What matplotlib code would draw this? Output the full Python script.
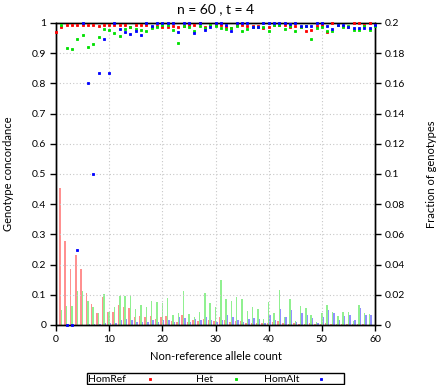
import numpy as np
import matplotlib
matplotlib.use("Agg")
import matplotlib.pyplot as plt
from matplotlib.lines import Line2D
from matplotlib.patches import Rectangle

plt.rcParams['font.family'] = ['Lato', 'DejaVu Sans']

nan = np.nan
allele_count = list(range(61))

conc_homref = [0.970, 0.988, 0.993, 0.993, 0.993, 0.993, 0.993, 0.993, 0.991, 0.994,
               0.995, 0.993, 0.995, 0.995, 0.988, 0.992, 0.993, 0.994, 0.986, 0.990,
               0.988, 0.988, 0.990, 0.986, 0.990, 0.993, 0.993, 1.000, 0.988, 0.994,
               0.995, 0.995, 0.988, 0.984, 0.995, 0.993, 0.990, 0.990, 0.990, 0.985,
               0.988, 0.995, 0.995, 0.993, 0.988, 0.990, 0.988, 0.972, 0.978, 0.990,
               0.993, 0.969, 1.000, 0.995, 0.990, 0.988, 1.000, 1.000, 0.995, 1.000,
               0.995]
conc_het = [nan, 0.995, 0.918, 0.913, 0.947, 0.959, 0.920, 0.930, 0.953, 0.979,
            0.976, 0.968, 0.957, 0.979, 0.986, 0.979, 0.978, 0.973, 0.984, 0.987,
            0.993, 0.993, 0.976, 0.934, 0.990, 0.988, 0.973, 0.990, 0.985, 0.995,
            0.990, 0.985, 0.981, 0.982, 0.990, 0.974, 0.981, 0.988, 0.988, 0.987,
            0.972, 0.995, 0.994, 0.981, 0.990, 0.972, 0.988, 0.990, 0.946, 0.983,
            0.987, 0.974, 0.972, 0.995, 0.988, 0.990, 0.978, 0.978, 0.990, 0.978,
            0.990]
conc_homalt = [nan, nan, 0.0, 0.0, 0.25, 1.0, 0.8, 0.5, 0.833, 0.946,
               0.833, 1.0, 0.981, 0.970, 0.962, 0.972, 0.960, 1.0, 0.990, 1.0,
               1.0, 1.0, 1.0, 0.970, 1.0, 1.0, 0.967, 1.0, 0.978, 0.988,
               1.0, 1.0, 0.994, 0.974, 1.0, 1.0, 1.0, 0.988, 0.988, 1.0,
               1.0, 1.0, 1.0, 1.0, 0.996, 1.0, 0.990, 0.991, 0.990, 1.0,
               1.0, 0.990, 0.981, 0.995, 0.994, 0.988, 0.985, 0.985, 0.985, 0.985,
               0.995]

frac_homref = [0.0, 0.091, 0.0555, 0.037, 0.0464, 0.037, 0.0214, 0.0139, 0.0081, 0.0183,
               0.0083, 0.0083, 0.0132, 0.012, 0.011, 0.005, 0.006, 0.005, 0.006, 0.004,
               0.005, 0.006, 0.0026, 0.002, 0.0066, 0.002, 0.003, 0.0025, 0.0042, 0.003,
               0.0025, 0.005, 0.003, 0.002, 0.0025, 0.0025, 0.0015, 0.0015, 0.001, 0.001,
               0.001, 0.002, 0.0025, 0.001, 0.0008, 0.001, 0.0008, 0.0008, 0.001, 0.0008,
               0.0008, 0.001, 0.0008, 0.0005, 0.0005, 0.0005, 0.0005, 0.0008, 0.0005, 0.0003,
               0.0003]
frac_het = [0.0, 0.0099, 0.0126, 0.0126, 0.0225, 0.0225, 0.0159, 0.0117, 0.0082, 0.0203,
            0.0083, 0.0117, 0.0194, 0.0192, 0.0192, 0.0104, 0.013, 0.0117, 0.0161, 0.015,
            0.0146, 0.0177, 0.0066, 0.0077, 0.0225, 0.007, 0.005, 0.0084, 0.0214, 0.0148,
            0.0121, 0.0298, 0.017, 0.0161, 0.0183, 0.0172, 0.0093, 0.0117, 0.0104, 0.0038,
            0.0152, 0.008, 0.0232, 0.0055, 0.0172, 0.0026, 0.0126, 0.0115, 0.0066, 0.0021,
            0.0077, 0.0132, 0.0088, 0.0059, 0.0088, 0.0084, 0.0028, 0.013, 0.0077, 0.0073,
            0.0]
frac_homalt = [0.0, 0.0, 0.0002, 0.0002, 0.0003, 0.0003, 0.0004, 0.0004, 0.0005, 0.001,
               0.001, 0.0015, 0.003, 0.004, 0.003, 0.002, 0.002, 0.002, 0.003, 0.002,
               0.003, 0.003, 0.002, 0.005, 0.0045, 0.002, 0.004, 0.0035, 0.0055, 0.003,
               0.002, 0.003, 0.0066, 0.005, 0.0035, 0.002, 0.004, 0.0045, 0.004, 0.001,
               0.0066, 0.0035, 0.0108, 0.005, 0.0099, 0.002, 0.0082, 0.0066, 0.0044, 0.001,
               0.0055, 0.0099, 0.0077, 0.0035, 0.0062, 0.0066, 0.003, 0.011, 0.0066, 0.0066,
               0.0]

series = ["HomRef", "Het", "HomAlt"]
point_colors = ["#ff0000", "#00e000", "#0000ff"]
bar_colors = ["#ff9090", "#90f090", "#9090ff"]

fig = plt.figure(figsize=(4.4, 3.85), dpi=100)
ax = fig.add_axes([56/440, 1-325/385, (375-56)/440, (325-23)/385])
ax2 = ax.twinx()

x = np.array(allele_count, dtype=float)
w = 0.27
for off, vals, c in zip([-w, 0.0, w], [frac_homref, frac_het, frac_homalt], bar_colors):
    ax2.bar(x + off, vals, width=w, color=c, linewidth=0, zorder=1)

for vals, c in zip([conc_homref, conc_het, conc_homalt], point_colors):
    ax.plot(x, vals, linestyle='none', marker='s', ms=2.0, mec=c, mew=0.6, mfc=c,
            clip_on=False, zorder=5)

ax.set_zorder(ax2.get_zorder() + 1)
ax.patch.set_visible(False)

ax.set_xlim(0, 60)
ax.set_ylim(0, 1)
ax2.set_ylim(0, 0.2)
ax.set_xticks(range(0, 61, 10))
ax.set_yticks(np.arange(0, 1.01, 0.1))
ax.set_yticklabels(['0', '0.1', '0.2', '0.3', '0.4', '0.5', '0.6', '0.7', '0.8', '0.9', '1'])
ax2.set_yticks(np.arange(0, 0.201, 0.02))
ax2.set_yticklabels(['0', '0.02', '0.04', '0.06', '0.08', '0.1', '0.12', '0.14', '0.16', '0.18', '0.2'])

ax.grid(True, color='#c8c8c8', linestyle=(0, (1, 2)), linewidth=0.8)
ax.set_axisbelow(True)

for a in (ax, ax2):
    a.tick_params(direction='out', length=4, width=1, labelsize=7.5, pad=3, color='black')
    for s in a.spines.values():
        s.set_linewidth(1.0)

ax.set_xlabel("Non-reference allele count", fontsize=8, labelpad=5)
ax.set_ylabel("Genotype concordance", fontsize=8, labelpad=13)
ax2.set_ylabel("Fraction of genotypes", fontsize=8, labelpad=15)
ax.set_title("n = 60 , t = 4", fontsize=10, pad=7)

# key box below the plot
fig.add_artist(Rectangle((87/440, 1-384/385), (344-87)/440, 11/385, transform=fig.transFigure,
                         fill=False, edgecolor='black', linewidth=1.0))
text_right = [126, 213, 299]
mark_x = [150, 236, 321]
for lab, c, tr, mx in zip(series, point_colors, text_right, mark_x):
    fig.text(tr/440, 1-379/385, lab, ha='right', va='center', fontsize=7.5)
    fig.add_artist(Line2D([mx/440], [1-379/385], marker='s', ms=2.0, mec=c, mew=0.6, mfc=c,
                          linestyle='none', transform=fig.transFigure))

fig.savefig("out.png", dpi=100)
